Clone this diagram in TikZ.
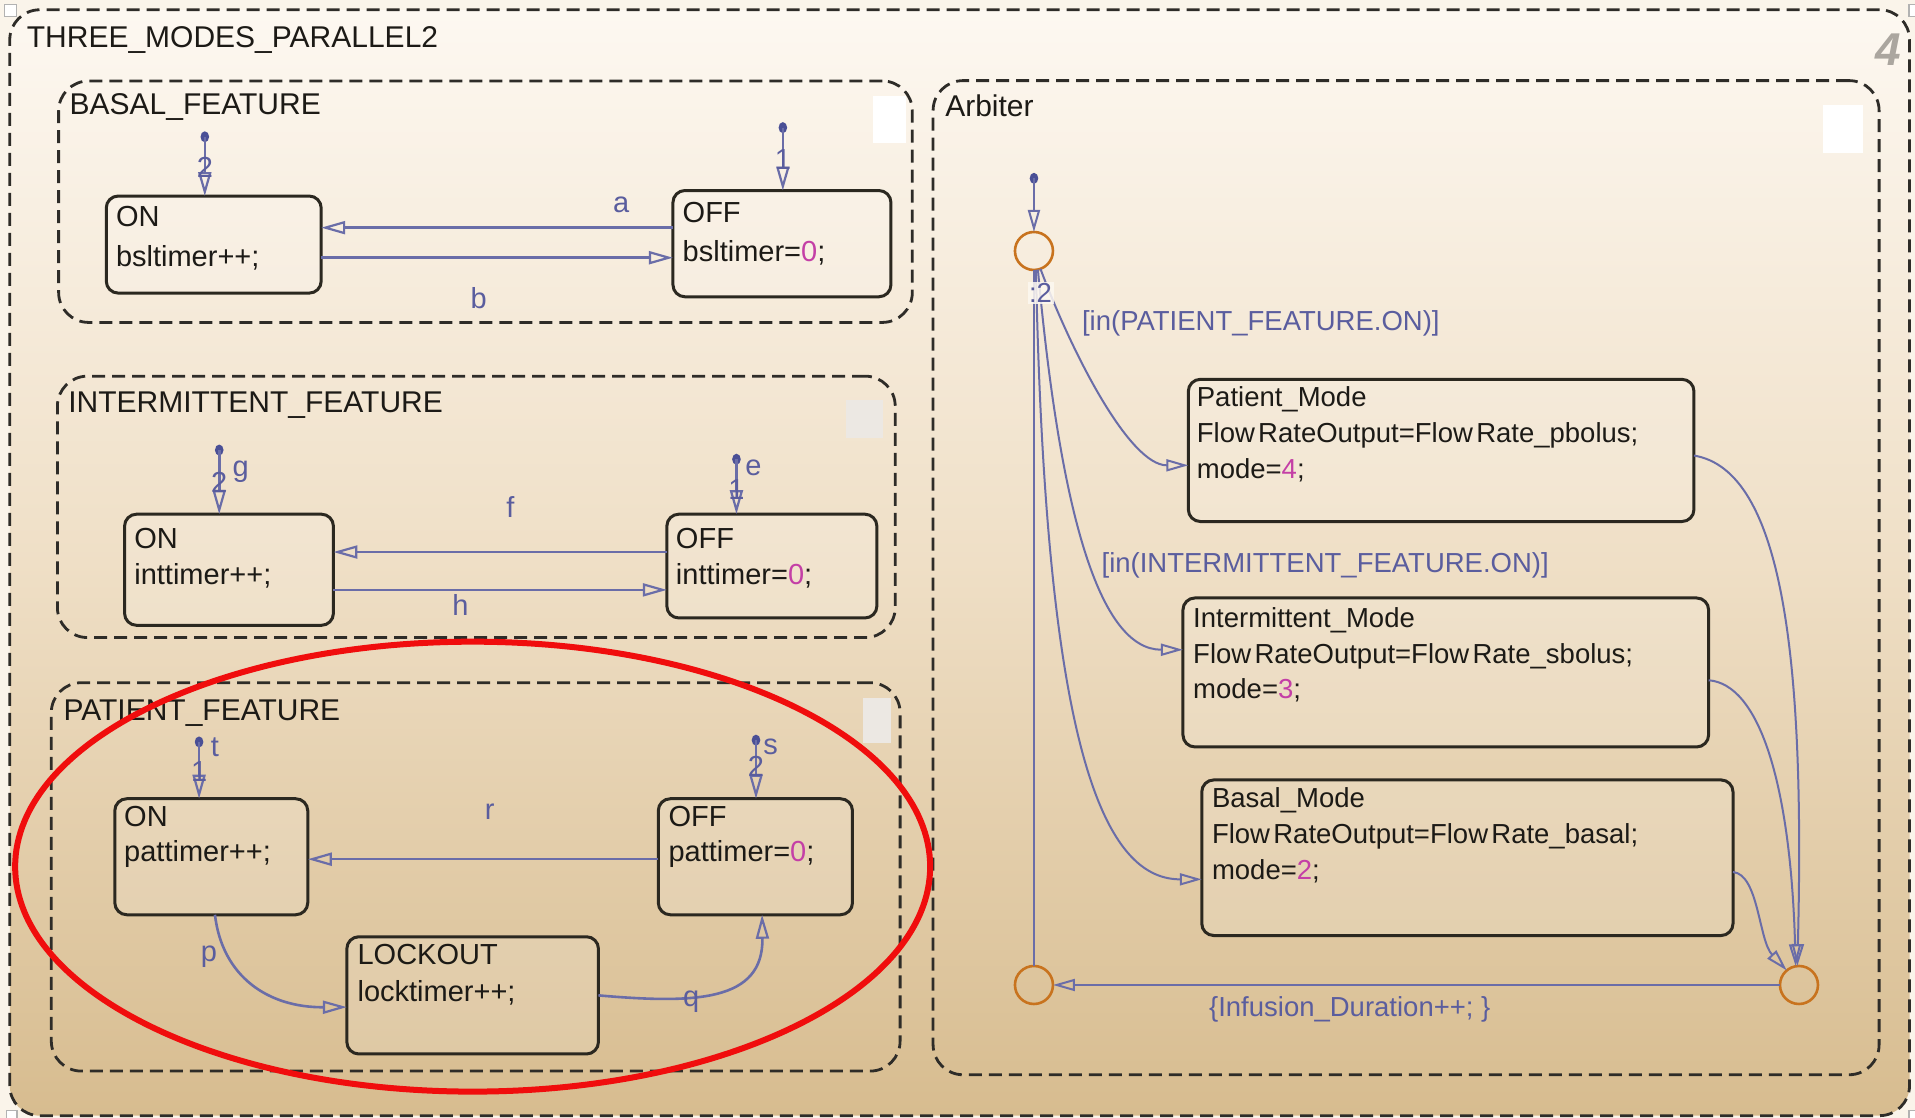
\documentclass[tikz,border=0pt]{standalone}
\usepackage{fontspec}
\setmainfont{Liberation Sans}
\usetikzlibrary{arrows.meta,fit}

\definecolor{pagebg}{HTML}{FAF4EA}
\definecolor{bgtop}{HTML}{FDF8F1}
\definecolor{bgmid}{HTML}{EFDFC6}
\definecolor{bgbot}{HTML}{D7BC8F}
\definecolor{boxc}{HTML}{2E2C28}
\definecolor{stb}{HTML}{2B2820}
\definecolor{stxt}{HTML}{1C1A16}
\definecolor{trc}{HTML}{6A6DA8}
\definecolor{trlab}{HTML}{5A5D9E}
\definecolor{dotc}{HTML}{4A4F96}
\definecolor{numc}{HTML}{C43FA6}
\definecolor{juncc}{HTML}{C8731E}
\definecolor{padc}{HTML}{ECE8E3}
\definecolor{markc}{HTML}{F00D0D}
\definecolor{wmc}{HTML}{ABA69F}

\newcommand{\magnum}[1]{\textcolor{numc}{#1}}

\begin{document}
\begin{tikzpicture}[x=1.2213pt,y=-1.2213pt,
  every node/.style={inner sep=0pt, outer sep=0pt},
  fbox/.style={draw=boxc, line width=2.8pt, dash pattern=on 13pt off 7pt, rounded corners=30pt},
  stbox/.style={draw=stb, line width=3pt, rounded corners=12pt, fill=white, fill opacity=0.15},
  title/.style={anchor=base west, text=stxt, font=\fontsize{30}{36}\selectfont},
  stext/.style={anchor=base west, text=stxt, align=left, text width=400pt, font=\fontsize{29}{#1}\selectfont},
  mtext/.style={anchor=base west, text=stxt, align=left, text width=520pt, font=\fontsize{27.5}{#1}\selectfont},
  tr/.style={draw=trc, line width=2.6pt, -{Triangle[open, length=24pt, width=13pt, line width=2.2pt]}},
  tra/.style={draw=trc, line width=2pt, -{Triangle[open, length=22pt, width=12pt, line width=2pt]}},
  trl/.style={draw=trc, line width=2pt},
  lab/.style={anchor=base, text=trlab, font=\fontsize{29}{34}\selectfont},
  alab/.style={anchor=base west, text=trlab, font=\fontsize{27.5}{33}\selectfont},
  junction/.style={circle, draw=juncc, line width=2.6pt, minimum size=38pt},
  handle/.style={draw=gray!60, line width=1.2pt, fill=white},
]
\useasboundingbox (0,0) rectangle (1568,915.4);
\fill[pagebg] (0,0) rectangle (1568,915.4);

% outer chart
\shade[top color=bgtop, bottom color=bgbot, middle color=bgmid, rounded corners=30pt]
  (8,8) rectangle (1563.5,913.5);
\node[fbox, fit={(8,8) (1563.5,913.5)}] (chart) {};
\node[title] (tchart) at (22,38.5) {THREE\_MODES\_PARALLEL2};
\node[font=\fontsize{46}{50}\selectfont\bfseries\itshape, text=wmc] (num4) at (1546,41) {4};

% parallel sub-charts
\node[fbox, fit={(48,66.3) (747,264)}] (basal) {};
\node[title] (tbasal) at (57,93.5) {BASAL\_FEATURE};
\node[fbox, fit={(47,308) (733,522)}] (inter) {};
\node[title] (tinter) at (56,338) {INTERMITTENT\_FEATURE};
\node[fbox, fit={(42,559) (737,877)}] (patient) {};
\node[title] (tpatient) at (52,589.6) {PATIENT\_FEATURE};
\node[fbox, fit={(764,66) (1538.6,880)}] (arbiter) {};
\node[title] (tarbiter) at (774,95.6) {Arbiter};

% corner pads
\fill[white] (715,79) rectangle (742,117);
\fill[padc] (693,327.6) rectangle (723,358.6);
\fill[padc] (707,571.7) rectangle (729.5,608.6);
\fill[white] (1493,86) rectangle (1525,125);

% BASAL_FEATURE states
\node[stbox, fit={(87,160.5) (263,240)}] (bon) {};
\node[stext=40.3] (bontx) at (95,185.5) {ON\\bsltimer++;};
\node[stbox, fit={(551,156) (729.5,243)}] (boff) {};
\node[stext=39] (bofftx) at (559,182.4) {OFF\\bsltimer=\magnum{0};};

% INTERMITTENT_FEATURE states
\node[stbox, fit={(102,421) (273,512)}] (ion) {};
\node[stext=36.6] (iontx) at (110,449) {ON\\inttimer++;};
\node[stbox, fit={(546,421) (718,506)}] (ioff) {};
\node[stext=36.3] (iofftx) at (553.5,449) {OFF\\inttimer=\magnum{0};};

% PATIENT_FEATURE states
\node[stbox, fit={(94,654) (252,749)}] (pon) {};
\node[stext=34.8] (pontx) at (101.7,677) {ON\\pattimer++;};
\node[stbox, fit={(539,654) (698,749)}] (poff) {};
\node[stext=34.8] (pofftx) at (547.4,677) {OFF\\pattimer=\magnum{0};};
\node[stbox, fit={(284,767) (490,863)}] (plock) {};
\node[stext=36.6] (plocktx) at (292.8,790) {LOCKOUT\\locktimer++;};

% Arbiter states
\node[stbox, fit={(973,310.6) (1387,427)}] (mpat) {};
\node[mtext=36] (mpattx) at (980,332.5)
  {Patient\_Mode\\Flow\hspace{0.12em}RateOutput=Flow\hspace{0.12em}Rate\_pbolus;\\mode=\magnum{4};};
\node[stbox, fit={(968.6,489.6) (1399,611.6)}] (mint) {};
\node[mtext=35.4] (minttx) at (977,514)
  {Intermittent\_Mode\\Flow\hspace{0.12em}RateOutput=Flow\hspace{0.12em}Rate\_sbolus;\\mode=\magnum{3};};
\node[stbox, fit={(984,638.6) (1419,766)}] (mbas) {};
\node[mtext=36] (mbastx) at (992.4,661)
  {Basal\_Mode\\Flow\hspace{0.12em}RateOutput=Flow\hspace{0.12em}Rate\_basal;\\mode=\magnum{2};};

% default transitions
\coordinate (dbon) at (167.7,112);
\coordinate (dboff) at (641,104.5);
\coordinate (dion) at (179.5,368.5);
\coordinate (dioff) at (603,376);
\coordinate (dpon) at (163,607.5);
\coordinate (dpoff) at (619,606);
\coordinate (darb) at (846.6,146);
\foreach \d in {dbon,dboff,dion,dioff,dpon,dpoff,darb}
  \fill[dotc] (\d) ellipse [x radius=4.3pt, y radius=5.5pt];

\draw[tr] (dbon) -- (dbon |- bon.north);
\node[lab] (lbon) at (167.7,145) {2};
\draw[tr] (dboff) -- (dboff |- boff.north);
\node[lab] (lboff) at (641,139) {1};
\draw[tr] (dion) -- (dion |- ion.north);
\node[lab] (lion) at (179.5,403) {2};
\node[lab] (gion) at (197,390) {g};
\draw[tr] (dioff) -- (dioff |- ioff.north);
\node[lab] (lioff) at (603,409) {1};
\node[lab] (eioff) at (617,389) {e};
\draw[tr] (dpon) -- (dpon |- pon.north);
\node[lab] (lpon) at (163,640) {1};
\node[lab] (tpon) at (176,619.6) {t};
\draw[tr] (dpoff) -- (dpoff |- poff.north);
\node[lab] (lpoff) at (619,636) {2};
\node[lab] (spoff) at (631,618) {s};

% BASAL_FEATURE transitions
\draw[tr] (boff.west |- 0,186.4) -- (bon.east |- 0,186.4);
\node[lab] (la) at (508.6,174) {a};
\draw[tr] (bon.east |- 0,211) -- (boff.west |- 0,211);
\node[lab] (lb) at (392,252.5) {b};

% INTERMITTENT_FEATURE transitions
\draw[tr] (ioff.west |- 0,452) -- (ion.east |- 0,452);
\node[lab] (lf) at (418,423.5) {f};
\draw[tr] (ion.east |- 0,483) -- (ioff.west |- 0,483);
\node[lab] (lh) at (377,503.6) {h};

% PATIENT_FEATURE transitions
\draw[tr] (poff.west |- 0,703.5) -- (pon.east |- 0,703.5);
\node[lab] (lr) at (401,671) {r};
\draw[tr] (pon.south -| 176,0) .. controls (182,800) and (220,825) .. (plock.west |- 0,824.6);
\node[lab] (lp) at (171,787.6) {p};
\draw[tr] (plock.east |- 0,815) .. controls (570,822) and (625,820) .. (poff.south -| 624,0);
\node[lab] (lq) at (566,824.5) {q};

% Arbiter flow graph
\node[junction] (j0) at (846.6,205.5) {};
\node[junction] (j1) at (846.6,806.5) {};
\node[junction] (j2) at (1473,806.5) {};
\draw[tra] (darb) -- (j0.north);
\draw[tra] (j0.-70) .. controls (878,290) and (925,381) .. (mpat.west |- 0,381);
\draw[tra] (j0.-78) .. controls (868,420) and (900,532) .. (mint.west |- 0,532);
\draw[tra] (j0.-84) .. controls (856,600) and (900,720) .. (mbas.west |- 0,720);
\draw[trl] (j1.north) -- (j0.south);
\draw[tra] (mpat.east |- 0,373) .. controls (1460,385) and (1478,540) .. (j2.95);
\draw[tra] (mint.east |- 0,557) .. controls (1440,560) and (1466,640) .. (j2.100);
\draw[tra] (mbas.east |- 0,714) .. controls (1440,716) and (1440,770) .. (j2.130);
\draw[tra] (j2.west) -- (j1.east);

\node[alab, anchor=base, fill=bgtop, fill opacity=0.85, text opacity=1, inner sep=1.5pt] (lj0) at (852,248) {:2};
\node[alab] (gpat) at (886,271) {[in(PATIENT\_FEATURE.ON)]};
\node[alab] (ginter) at (902,468.8) {[in(INTERMITTENT\_FEATURE.ON)]};
\node[alab] (ainf) at (990,832) {\{Infusion\_Duration++; \}};

% selection handles
\draw[handle] (4,4) rectangle (13.5,13.5);
\draw[handle] (1563,4) rectangle (1572,13.5);
\draw[handle] (5,909) rectangle (14,918);
\draw[handle] (1563,909) rectangle (1572,918);

% highlight ring
\draw[markc, line width=6pt] (387,709.6) ellipse [x radius=374.6, y radius=184.2];
\end{tikzpicture}
\end{document}
